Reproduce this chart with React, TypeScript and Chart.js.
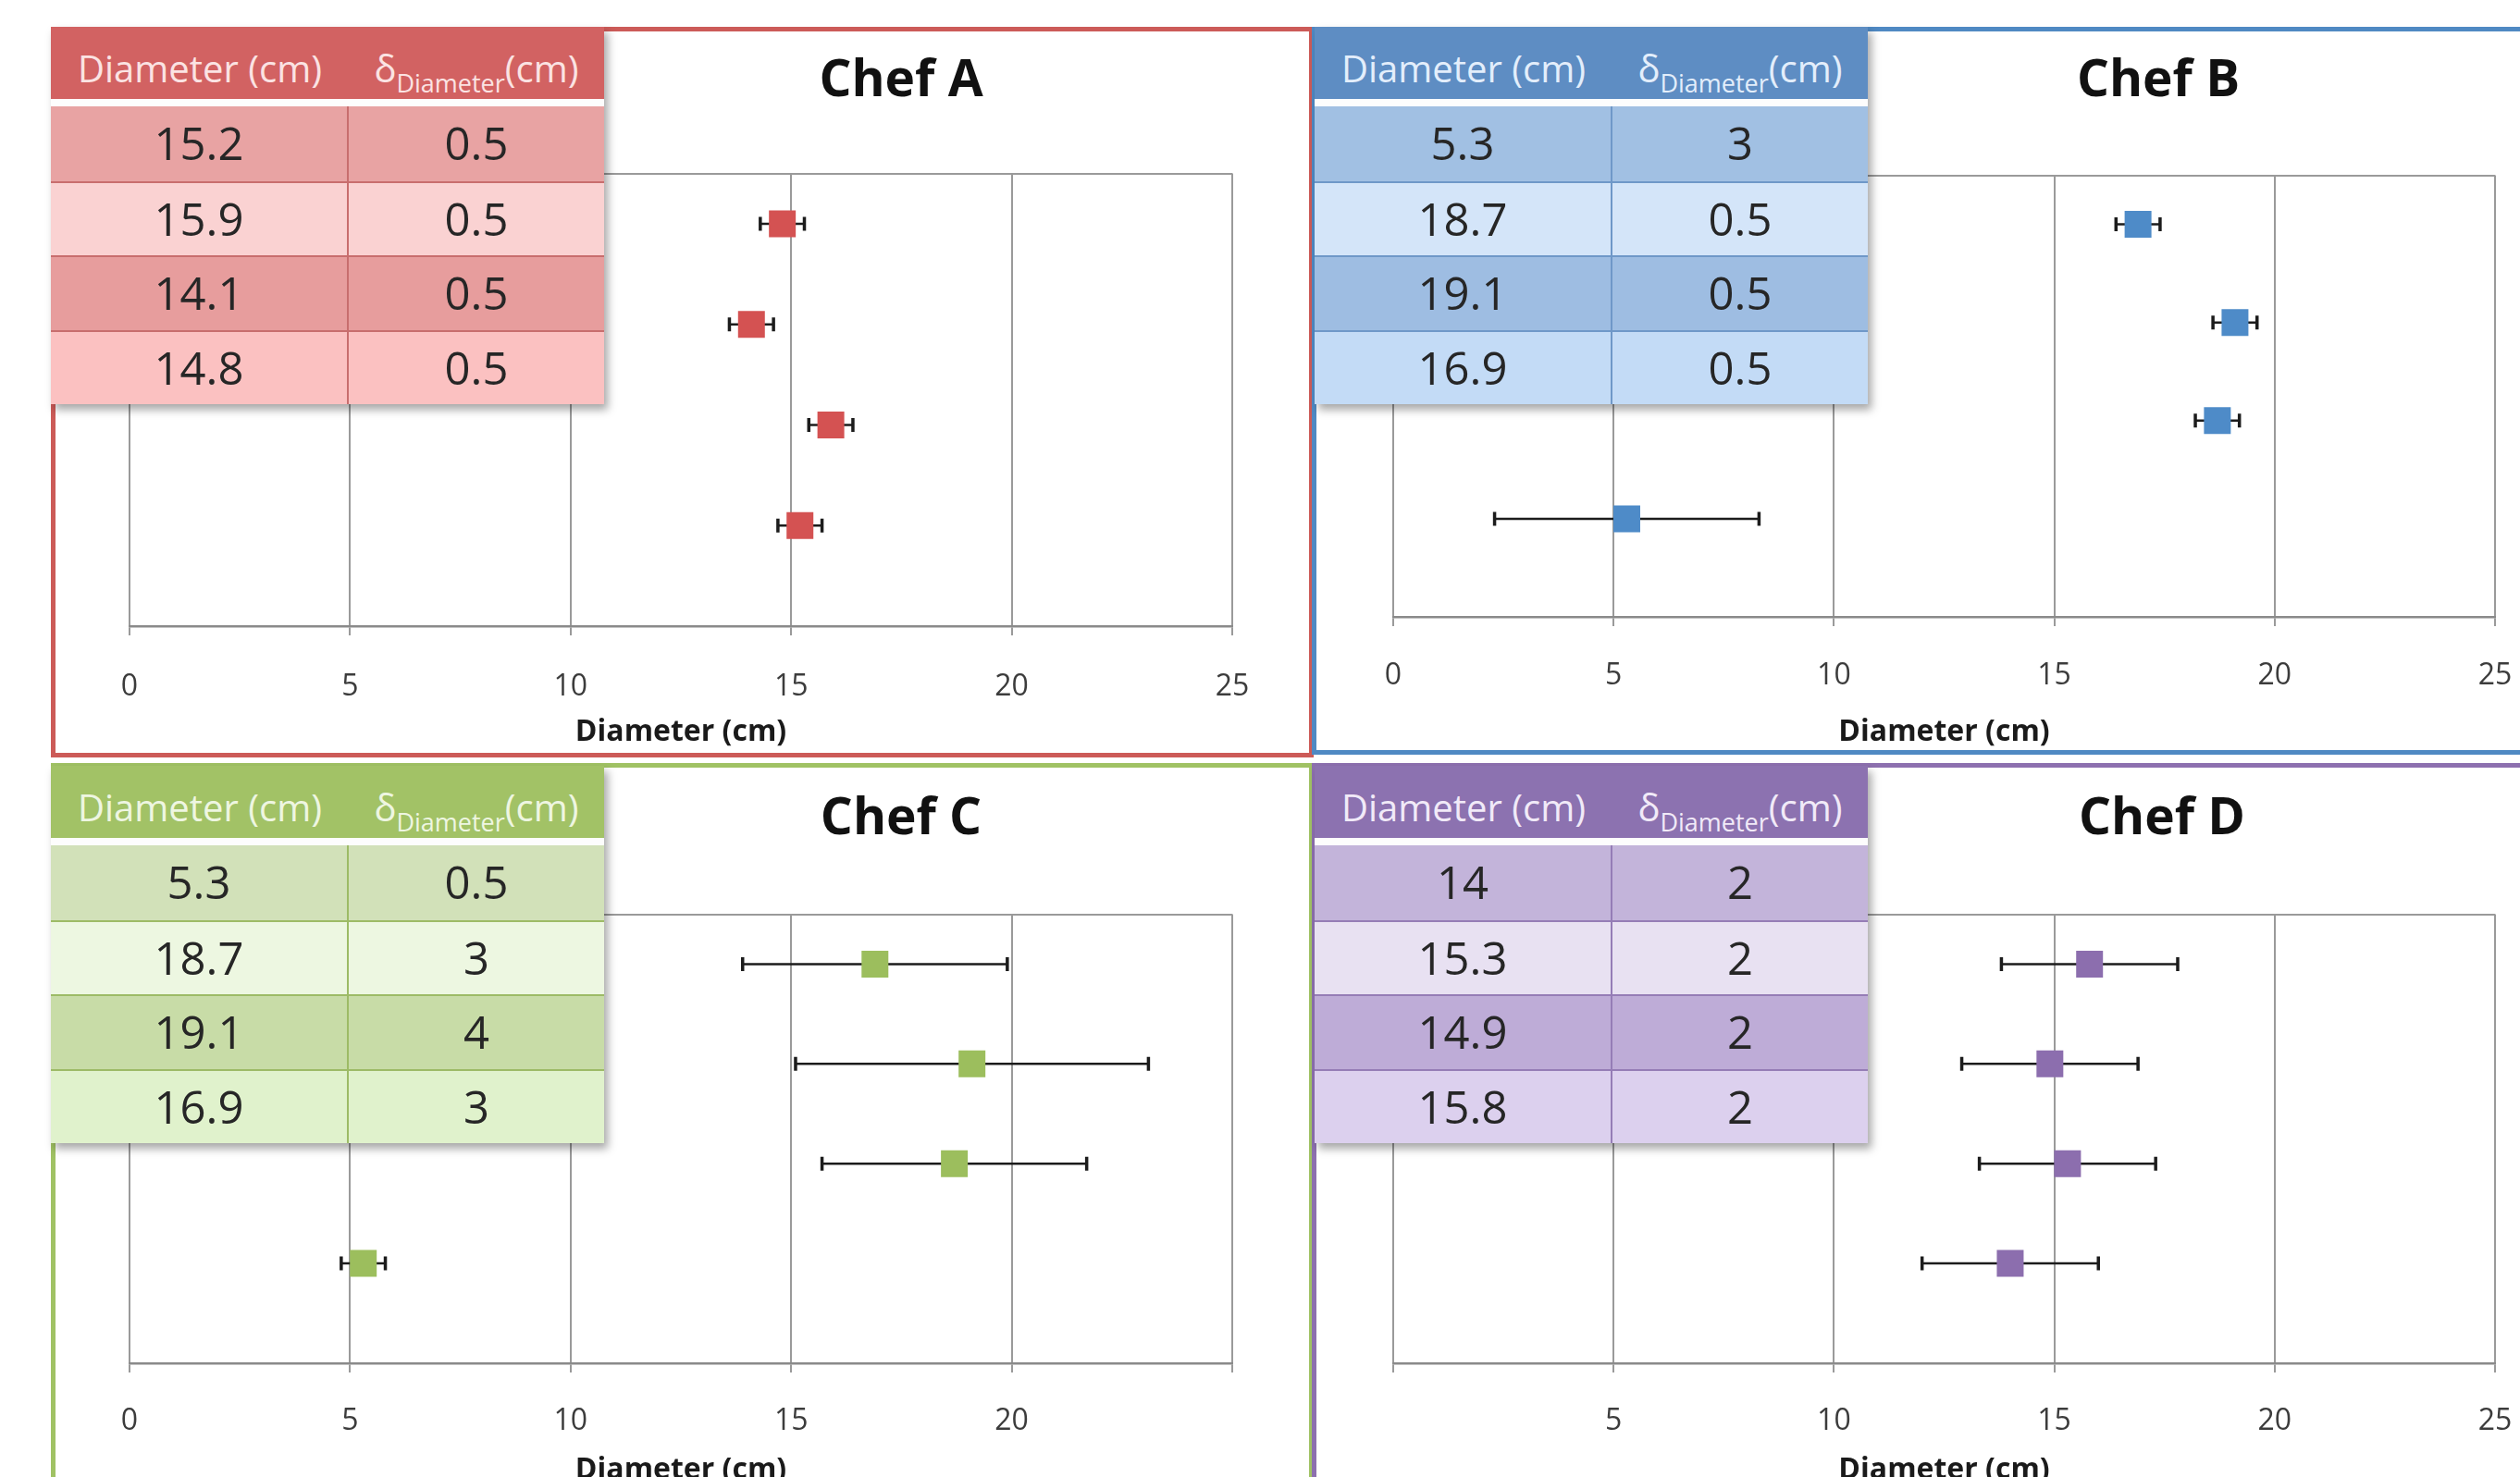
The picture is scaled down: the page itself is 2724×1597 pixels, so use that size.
import React, { useEffect, useRef } from 'react';
import { Chart, registerables } from 'chart.js';
Chart.register(...registerables);

// ---------- data ----------
const chefNames = ['Chef A', 'Chef B', 'Chef C', 'Chef D'];
const diametersA = [15.2, 15.9, 14.1, 14.8];
const errorsA = [0.5, 0.5, 0.5, 0.5];
const diametersB = [5.3, 18.7, 19.1, 16.9];
const errorsB = [3, 0.5, 0.5, 0.5];
const diametersC = [5.3, 18.7, 19.1, 16.9];
const errorsC = [0.5, 3, 4, 3];
const diametersD = [14, 15.3, 14.9, 15.8];
const errorsD = [2, 2, 2, 2];
const rowPositions = [1, 2, 3, 4];
const xTicksA = ['0', '5', '10', '15', '20', '25'];
const xTicksB = ['0', '5', '10', '15', '20', '25'];
const xTicksC = ['0', '5', '10', '15', '20', ''];
const xTicksD = ['', '5', '10', '15', '20', '25'];
const headerDiameter = 'Diameter (cm)';
const headerDeltaSymbol = 'δ';
const headerDeltaSub = 'Diameter';
const headerDeltaUnit = '(cm)';
const axisTitle = 'Diameter (cm)';

const allValues = [diametersA, diametersB, diametersC, diametersD];
const allErrors = [errorsA, errorsB, errorsC, errorsD];
const allTicks = [xTicksA, xTicksB, xTicksC, xTicksD];

// ---------- layout / styles ----------
const FONT = '"Open Sans", "Noto Sans", sans-serif';
const layouts = [
  { box: { left: 55, top: 29, width: 1365, height: 790 }, border: '#CC5B58',
    plot: { L: 140, R: 1332, T: 187, A: 677, lab: 66, tit: 115 },
    table: { left: 55, top: 29 }, title: { x: 974, y: 82 } },
  { box: { left: 1418, top: 29, width: 1330, height: 787 }, border: '#4F89C3',
    plot: { L: 1506, R: 2697, T: 189, A: 667, lab: 64, tit: 125 },
    table: { left: 1421, top: 29 }, title: { x: 2333, y: 82 } },
  { box: { left: 55, top: 825, width: 1365, height: 800 }, border: '#A0C264',
    plot: { L: 140, R: 1332, T: 988, A: 1474, lab: 63, tit: 116 },
    table: { left: 55, top: 828 }, title: { x: 974, y: 880 } },
  { box: { left: 1418, top: 825, width: 1330, height: 800 }, border: '#8D70AF',
    plot: { L: 1506, R: 2697, T: 988, A: 1474, lab: 63, tit: 116 },
    table: { left: 1421, top: 828 }, title: { x: 2337, y: 880 } },
];
const markerColors = ['#D45252', '#4E8BC8', '#9CBE5D', '#8C6EAE'];
const themes = [
  { header: '#D26262', headerText: '#FBE3E3', rows: ['#E8A3A3', '#FAD2D2', '#E79D9D', '#FBC1C1'], line: '#C86E6E' },
  { header: '#5E8DC3', headerText: '#E3EEFB', rows: ['#A1C0E3', '#D4E5F9', '#9EBDE2', '#C3DBF6'], line: '#6F98C8' },
  { header: '#A2C266', headerText: '#EEF6E1', rows: ['#D2E1B9', '#EDF7E1', '#C8DCA7', '#E0F2CC'], line: '#9DBB66' },
  { header: '#8C72B0', headerText: '#F1EAF8', rows: ['#C3B4DA', '#E8E1F2', '#BEACD7', '#DCD0EE'], line: '#957DB6' },
];

const PAD_L = 80, PAD_R = 80, PAD_T = 20;
const TICK_FONT = 32;
const TITLE_FONT = 32;

function ErrorChart({ idx }: { idx: number }) {
  const ref = useRef<HTMLCanvasElement>(null);
  const p = layouts[idx].plot;
  const H = p.tit + 25;
  const left = p.L - PAD_L;
  const top = p.T - PAD_T;
  const width = p.R - p.L + PAD_L + PAD_R;
  const height = p.A - top + H;
  useEffect(() => {
    const values = allValues[idx];
    const errors = allErrors[idx];
    const ticks = allTicks[idx];
    const color = markerColors[idx];
    const datasets: any[] = [];
    datasets.push({
      data: values.map((v, i) => ({ x: v, y: rowPositions[i] })),
      showLine: false,
      pointStyle: 'rect',
      pointRadius: 20.5,
      pointHoverRadius: 20.5,
      pointBackgroundColor: color,
      backgroundColor: color,
      pointBorderWidth: 0,
      borderWidth: 0,
    });
    values.forEach((v, i) => {
      datasets.push({
        data: [{ x: v - errors[i], y: rowPositions[i] }, { x: v + errors[i], y: rowPositions[i] }],
        showLine: true,
        borderColor: '#1c1c1c',
        borderWidth: 2.5,
        pointStyle: 'line',
        pointRotation: 90,
        pointRadius: 7.5,
        pointHoverRadius: 7.5,
        pointBorderWidth: 3.5,
        pointBorderColor: '#1c1c1c',
        pointBackgroundColor: '#1c1c1c',
        fill: false,
      });
    });
    const labelPad = p.lab - 10 - TICK_FONT * 0.6;
    const chart = new Chart(ref.current as HTMLCanvasElement, {
      type: 'scatter',
      data: { datasets },
      options: {
        animation: false,
        responsive: false,
        devicePixelRatio: 1,
        events: [],
        layout: { padding: { left: PAD_L, right: PAD_R, top: PAD_T, bottom: 0 } },
        plugins: { legend: { display: false }, tooltip: { enabled: false }, title: { display: false } },
        scales: {
          x: {
            type: 'linear', min: 0, max: 25,
            ticks: {
              stepSize: 5, autoSkip: false, maxRotation: 0,
              callback: (_v: any, i: number) => ticks[i],
              color: '#3c3c3c', padding: labelPad,
              font: { family: FONT, size: TICK_FONT },
            },
            grid: { color: '#9a9a9a', lineWidth: 2, tickLength: 10, drawTicks: true },
            border: { display: true, color: '#8a8a8a', width: 2.5 },
            title: {
              display: true, text: axisTitle, color: '#1a1a1a',
              font: { family: FONT, size: TITLE_FONT, weight: 'bold' },
              padding: { top: 0, bottom: 25 - TITLE_FONT * 0.6 },
            },
            afterFit: (s: any) => { s.height = H; },
          },
          y: {
            type: 'linear', min: 0, max: 4.5, display: true,
            ticks: { display: false, stepSize: 4.5 },
            grid: {
              drawTicks: false, lineWidth: 2,
              color: (c: any) => (c.tick && c.tick.value === 4.5 ? '#9a9a9a' : 'rgba(0,0,0,0)'),
            },
            border: { display: false },
          },
        },
      } as any,
    });
    return () => chart.destroy();
  }, []);
  return (
    <canvas
      ref={ref}
      width={width}
      height={height}
      style={{ position: 'absolute', left, top, width, height, zIndex: 1 }}
    />
  );
}

function DataTable({ idx }: { idx: number }) {
  const t = themes[idx];
  const pos = layouts[idx].table;
  const values = allValues[idx];
  const errors = allErrors[idx];
  const col1 = 322, col2 = 276;
  const cellBase: React.CSSProperties = {
    display: 'flex', alignItems: 'center', justifyContent: 'center',
    boxSizing: 'border-box', fontSize: 49, color: '#262626', paddingBottom: 2,
  };
  return (
    <div style={{ position: 'absolute', left: pos.left, top: pos.top, width: col1 + col2, zIndex: 3,
      boxShadow: '4px 6px 9px rgba(0,0,0,0.35)', fontFamily: FONT, background: '#fff' }}>
      <div style={{ display: 'flex', height: 78, background: t.header, color: t.headerText }}>
        <div style={{ width: col1, textAlign: 'center', fontSize: 40, lineHeight: '40px', paddingTop: 25, boxSizing: 'border-box' }}>
          {headerDiameter}
        </div>
        <div style={{ width: col2, textAlign: 'center', fontSize: 40, lineHeight: '40px', paddingTop: 25, boxSizing: 'border-box', whiteSpace: 'nowrap' }}>
          {headerDeltaSymbol}
          <span style={{ fontSize: 27, position: 'relative', top: 11 }}>{headerDeltaSub}</span>
          {headerDeltaUnit}
        </div>
      </div>
      <div style={{ height: 8, background: '#fdfdfd' }} />
      {values.map((v, i) => (
        <div key={i} style={{ display: 'flex', height: 80.5, background: t.rows[i],
          borderTop: i > 0 ? `2px solid ${t.line}` : 'none', boxSizing: 'border-box' }}>
          <div style={{ ...cellBase, width: col1, borderRight: `2px solid ${t.line}` }}>{String(v)}</div>
          <div style={{ ...cellBase, width: col2 }}>{String(errors[i])}</div>
        </div>
      ))}
    </div>
  );
}

export default function App() {
  useEffect(() => { document.body.style.margin = '0'; }, []);
  const boxOrder = [0, 2, 1, 3];
  return (
    <div style={{ position: 'absolute', left: 0, top: 0, width: 2724, height: 1597, overflow: 'hidden', background: '#fff', fontFamily: FONT }}>
      {boxOrder.map((i) => {
        const b = layouts[i].box;
        return (
          <div key={'box' + i} style={{ position: 'absolute', left: b.left, top: b.top, width: b.width, height: b.height,
            border: `5px solid ${layouts[i].border}`, boxSizing: 'border-box', background: '#fff', zIndex: 0 }} />
        );
      })}
      {[0, 1, 2, 3].map((i) => <ErrorChart key={'c' + i} idx={i} />)}
      {[0, 1, 2, 3].map((i) => (
        <div key={'t' + i} style={{ position: 'absolute', left: layouts[i].title.x, top: layouts[i].title.y,
          transform: 'translate(-50%, -50%)', fontSize: 55, fontWeight: 700, lineHeight: '55px', color: '#111', whiteSpace: 'nowrap', zIndex: 2 }}>
          {chefNames[i]}
        </div>
      ))}
      {[0, 1, 2, 3].map((i) => <DataTable key={'d' + i} idx={i} />)}
    </div>
  );
}
